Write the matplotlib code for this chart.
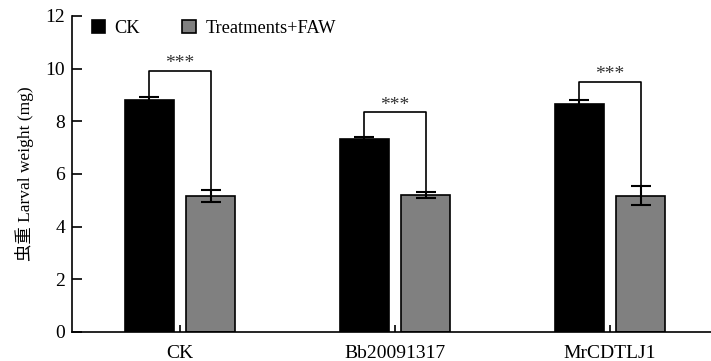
import matplotlib
matplotlib.use("Agg")
import matplotlib.pyplot as plt
import numpy as np

categories = ["CK", "Bb20091317", "MrCDTLJ1"]
ck_vals = [8.80, 7.33, 8.67]
ck_err = [0.12, 0.06, 0.15]
trt_vals = [5.18, 5.19, 5.18]
trt_err = [0.23, 0.11, 0.36]
bracket_y = [9.91, 8.34, 9.51]
sig_labels = ["***", "***", "***"]
series_names = ["CK", "Treatments+FAW"]

plt.rcParams['font.family'] = ['Liberation Serif', 'Noto Sans CJK SC']
plt.rcParams['font.size'] = 12

fig = plt.figure(figsize=(7.11, 3.61), dpi=100)
ax = fig.add_axes([72/711, 1-332/361, (711-72)/711, (332-16)/361])

x = np.arange(len(categories))
w = 0.228
off = 0.143
ekw = dict(ecolor='black', elinewidth=1.5, capsize=7, capthick=1.5)
ax.bar(x - off, ck_vals, w, color='black', edgecolor='black', linewidth=1.2, label=series_names[0],
       yerr=ck_err, error_kw=ekw)
ax.bar(x + off, trt_vals, w, color='#808080', edgecolor='black', linewidth=1.2, label=series_names[1],
       yerr=trt_err, error_kw=ekw)

for i in range(len(categories)):
    x0 = x[i] - off
    x1 = x[i] + off
    yb = bracket_y[i]
    ax.plot([x0, x0, x1, x1], [ck_vals[i] + ck_err[i], yb, yb, trt_vals[i] + trt_err[i]],
            color='black', lw=1.2)
    ax.text((x0 + x1) / 2, yb - 0.05, sig_labels[i], ha='center', va='bottom', fontsize=14,
            color='#333333')

ax.set_xlim(-0.502, 2.47)
ax.set_ylim(0, 12)
ax.set_yticks(range(0, 13, 2))
ax.set_xticks(x)
ax.set_xticklabels(categories)
ax.tick_params(axis='y', direction='in', length=7, width=1.2, labelsize=14, pad=5)
ax.tick_params(axis='x', direction='in', length=5, width=1.2, labelsize=14, pad=9)
for s in ['top', 'right']:
    ax.spines[s].set_visible(False)
for s in ['left', 'bottom']:
    ax.spines[s].set_linewidth(1.2)
ax.set_ylabel("虫重 Larval weight (mg)", fontsize=12.5, labelpad=8)

ax.legend(loc='upper left', bbox_to_anchor=(0.005, 1.04), ncol=2, frameon=False,
          handlelength=0.75, handleheight=0.75, handletextpad=0.5, columnspacing=2.3, fontsize=13.2)

fig.savefig("out.png", dpi=100)
